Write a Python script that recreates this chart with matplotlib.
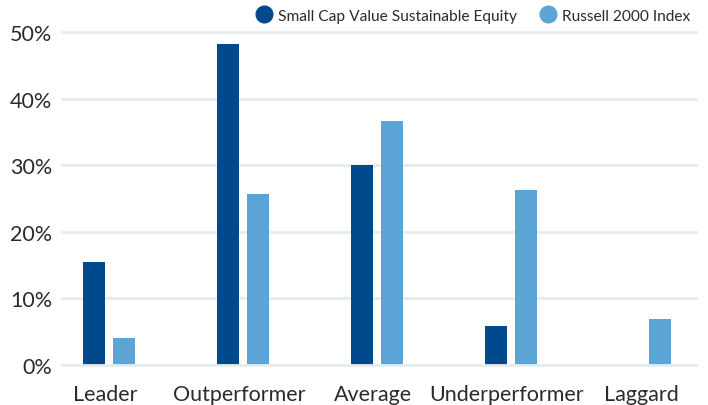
import matplotlib
matplotlib.use("Agg")
import matplotlib.pyplot as plt
import numpy as np
from matplotlib.lines import Line2D

categories = ["Leader", "Outperformer", "Average", "Underperformer", "Laggard"]
fund_values = [15.5, 48.2, 30.0, 5.9, 0.0]
index_values = [4.1, 25.7, 36.6, 26.3, 6.9]
series_names = ["Small Cap Value Sustainable Equity", "Russell 2000 Index"]
y_ticks = [0, 10, 20, 30, 40, 50]

dark = "#00498D"
light = "#5CA4D6"
grid_color = "#E5ECEE"
text_color = "#2B2B2B"

plt.rcParams['font.family'] = ['Lato', 'DejaVu Sans']

fig = plt.figure(figsize=(7.08, 4.06), dpi=100)
ax = fig.add_axes([62/708, 1 - 366/406, (696-62)/708, (366-33)/406])

x = np.arange(len(categories))
w = 0.164
off = 0.112
ax.bar(x - off, fund_values, width=w, color=dark, zorder=2)
ax.bar(x + off, index_values, width=w, color=light, zorder=2)

ax.set_xlim(-0.35, 4.38)
ax.set_ylim(0, 50)
ax.set_yticks(y_ticks)
ax.set_yticklabels([f"{v}%" for v in y_ticks])
for v in y_ticks:
    ax.axhline(v, color=grid_color, lw=2, zorder=3 if v == 0 else 1, clip_on=False)
ax.set_xticks(x - 0.03)
ax.set_xticklabels(categories)
ax.tick_params(axis='both', length=0, labelsize=15.5, colors=text_color)
ax.tick_params(axis='y', pad=7)
ax.tick_params(axis='x', pad=14)
for s in ax.spines.values():
    s.set_visible(False)

handles = [Line2D([0], [0], marker='o', color='none', markerfacecolor=c, markeredgecolor=c, markersize=12)
           for c in (dark, light)]
fig.legend(handles, series_names, loc='upper right', bbox_to_anchor=(0.995, 1.01), ncol=2, frameon=False,
           fontsize=11.2, handlelength=1.0, columnspacing=1.5, handletextpad=0.4, labelcolor=text_color)

fig.savefig("out.png", dpi=100)
